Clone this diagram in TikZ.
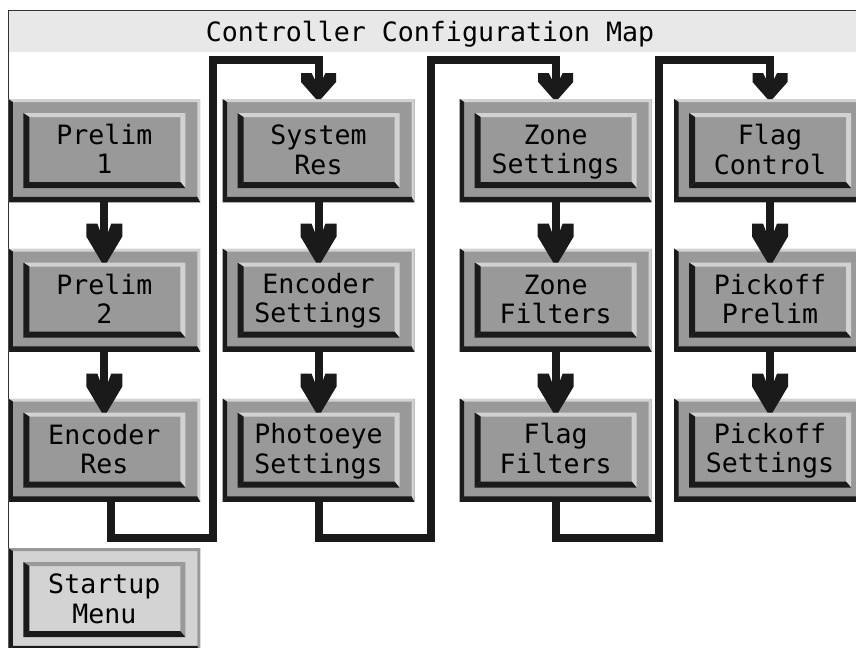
\documentclass[tikz,border=0pt]{standalone}
\usepackage{fontspec}
\newfontfamily\monof{DejaVu Sans Mono}
\usetikzlibrary{calc}
\definecolor{gfill}{HTML}{999999}
\definecolor{glt}{HTML}{D2D2D2}
\definecolor{dk}{HTML}{1A1A1A}
\definecolor{sfill}{HTML}{D3D3D3}
\definecolor{tbar}{HTML}{E8E8E8}
\colorlet{nlt}{glt}
\colorlet{slt}{gfill}
\newcommand\stx{\rule[-3.75pt]{0pt}{20.7pt}}
% bevel: node, light colour, top w, left w, right w, bottom w
\newcommand\bvl[6]{%
  \fill[#2] (#1.north west) -- (#1.north east) -- ($(#1.north east)+(-#5,#3)$) -- ($(#1.north west)+(#4,#3)$) -- cycle;
  \fill[#2] (#1.north east) -- (#1.south east) -- ($(#1.south east)+(-#5,-#6)$) -- ($(#1.north east)+(-#5,#3)$) -- cycle;
  \fill[dk] (#1.north west) -- ($(#1.north west)+(#4,#3)$) -- ($(#1.south west)+(#4,-#6)$) -- (#1.south west) -- cycle;
  \fill[dk] (#1.south west) -- (#1.south east) -- ($(#1.south east)+(-#5,-#6)$) -- ($(#1.south west)+(#4,-#6)$) -- cycle;
}
% box: name, X, Y, text, kind (n or s)
\newcommand\mkbox[5]{%
  \node[#5outer] (#1o) at (#2,#3) {};
  \bvl{#1o}{#5lt}{3}{4.5}{3}{5.5}
  \node[#5inner] (#1) at ($(#1o.north west)+(15,14)$) {#4};
  \bvl{#1}{#5lt}{4}{6}{5}{6}
}
% arrow inside a column: from outer node of #1 to inner node #2
\newcommand\colarrow[2]{%
  \draw[conn] (#1o.south) -- ($(#2.north)+(0,-31)$);
  \begin{scope}[shift={(#2.north)}]
    \fill[dk] (-18,-39) -- (-7,-39) -- (-4,-31) -- (4,-31) -- (7,-39) -- (18,-39)
      -- (18,-26) -- (2.5,0) -- (-2.5,0) -- (-18,-26) -- cycle;
  \end{scope}
}
% short arrow head on top of outer node
\newcommand\toparrow[1]{%
  \begin{scope}[shift={(#1o.north)}]
    \fill[dk] (-17.5,-26) -- (-7,-26) -- (-4,-20) -- (4,-20) -- (7,-26) -- (17.5,-26)
      -- (17.5,-17) -- (2.5,0) -- (-2.5,0) -- (-17.5,-17) -- cycle;
  \end{scope}
}
\begin{document}
\begin{tikzpicture}[x=0.75pt,y=-0.75pt,
  nouter/.style={fill=gfill, minimum width=144pt, minimum height=77.6pt, inner sep=0pt, outer sep=0pt, anchor=north west},
  ninner/.style={fill=gfill, minimum width=121.5pt, minimum height=56.25pt, inner sep=0pt, outer sep=0pt, anchor=north west, align=center, text=black, font={\monof\fontsize{19.95}{20.25}\selectfont}},
  souter/.style={nouter, fill=sfill},
  sinner/.style={ninner, fill=sfill},
  conn/.style={draw=dk, line width=6pt, line join=miter},
  ]
\useasboundingbox (0,0) rectangle (856,647);
\fill[white] (0,0) rectangle (856,647);
\fill[tbar] (8,10) rectangle (856,52);
\draw[color=dk!90, line width=1.1pt] (8.5,647) -- (8.5,10.5) -- (856,10.5);
\node[anchor=base, font={\monof\fontsize{19.95}{20.25}\selectfont}] (title) at (430,41.5) {Controller Configuration Map};

\mkbox{pa}{8.3}{99}{\stx Prelim\\\stx 1}{n}
\mkbox{pb}{8.3}{248.5}{\stx Prelim\\\stx 2}{n}
\mkbox{er}{8.3}{398.5}{\stx Encoder\\\stx Res}{n}
\mkbox{sm}{8.3}{548}{\stx Startup\\\stx Menu}{s}
\mkbox{sr}{222.5}{99}{\stx System\\\stx Res}{n}
\mkbox{es}{222.5}{248.5}{\stx Encoder\\\stx Settings}{n}
\mkbox{ps}{222.5}{398.5}{\stx Photoeye\\\stx Settings}{n}
\mkbox{zs}{459.7}{99}{\stx Zone\\\stx Settings}{n}
\mkbox{zf}{459.7}{248.5}{\stx Zone\\\stx Filters}{n}
\mkbox{ff}{459.7}{398.5}{\stx Flag\\\stx Filters}{n}
\mkbox{fc}{674}{99}{\stx Flag\\\stx Control}{n}
\mkbox{po}{674}{248.5}{\stx Pickoff\\\stx Prelim}{n}
\mkbox{pk}{674}{398.5}{\stx Pickoff\\\stx Settings}{n}

\colarrow{pa}{pb}
\colarrow{pb}{er}
\colarrow{sr}{es}
\colarrow{es}{ps}
\colarrow{zs}{zf}
\colarrow{zf}{ff}
\colarrow{fc}{po}
\colarrow{po}{pk}

\coordinate (b1) at (213,538);
\coordinate (t1) at (213,60);
\coordinate (b2) at (431,538);
\coordinate (t2) at (431,60);
\coordinate (b3) at (659,538);
\coordinate (t3) at (659,60);
\draw[conn] ($(ero.south)+(7,0)$) |- (b1) -- (t1) -| ($(sro.north)+(0,-20)$);
\draw[conn] (pso.south) |- (b2) -- (t2) -| ($(zso.north)+(0,-20)$);
\draw[conn] (ffo.south) |- (b3) -- (t3) -| ($(fco.north)+(0,-20)$);
\toparrow{sr}
\toparrow{zs}
\toparrow{fc}
\end{tikzpicture}
\end{document}
